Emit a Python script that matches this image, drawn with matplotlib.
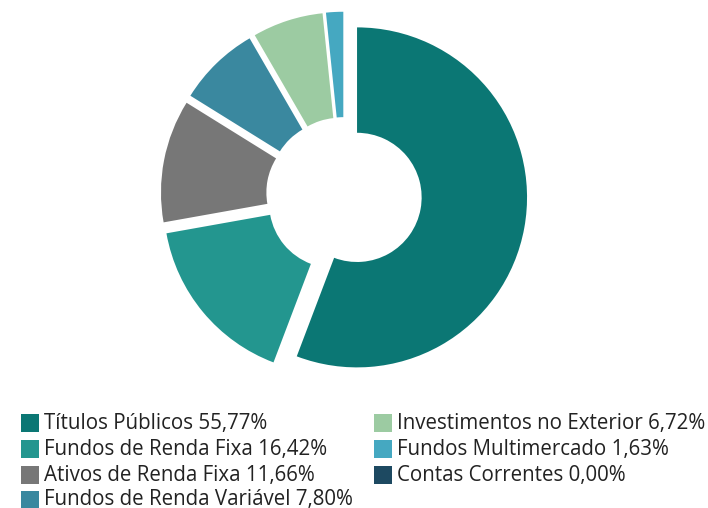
import matplotlib
matplotlib.use("Agg")
import matplotlib.pyplot as plt
from matplotlib.patches import Rectangle

plt.rcParams['font.family'] = ['Open Sans', 'DejaVu Sans']

# composition of the portfolio (%)
labels = ["Títulos Públicos", "Fundos de Renda Fixa", "Ativos de Renda Fixa",
          "Fundos de Renda Variável", "Investimentos no Exterior",
          "Fundos Multimercado", "Contas Correntes"]
shares = [55.77, 16.42, 11.66, 7.80, 6.72, 1.63, 0.00]
colors = ["#0b7774", "#23968f", "#777777", "#3a889f",
          "#9ccba2", "#45a8c1", "#1d4961"]

W, H = 708, 508
fig = plt.figure(figsize=(W / 100, H / 100), dpi=100)
ax = fig.add_axes([0, 0, 1, 1])

# pixel geometry: centre and radius of the donut
cx, cy, R = 344, 195, 170

ax.pie(shares, colors=colors, startangle=90, counterclock=False,
       explode=[0.078] * len(shares), radius=1.0,
       wedgeprops=dict(width=0.62, linewidth=0))
ax.set_aspect('auto')
ax.set_xlim(-cx / R, (W - cx) / R)
ax.set_ylim((cy - H) / R, cy / R)
ax.axis('off')

# legend drawn by hand, column-major, 4 rows in first column
col_x = [21, 374]
row_y = [423, 449, 475, 500]
sq = 18
for i, (lab, val, c) in enumerate(zip(labels, shares, colors)):
    col, row = divmod(i, 4)
    x0 = col_x[col]
    y0 = row_y[row]
    fig.patches.append(Rectangle((x0 / W, 1 - (y0 + sq / 2) / H), sq / W, sq / H,
                                 transform=fig.transFigure, facecolor=c,
                                 edgecolor='none'))
    txt = f"{lab} {val:.2f}%".replace('.', ',')
    fig.text((x0 + 23) / W, 1 - y0 / H, txt, fontsize=14.8, color="#222222",
             va='center', ha='left')

fig.savefig("out.png", dpi=100)
